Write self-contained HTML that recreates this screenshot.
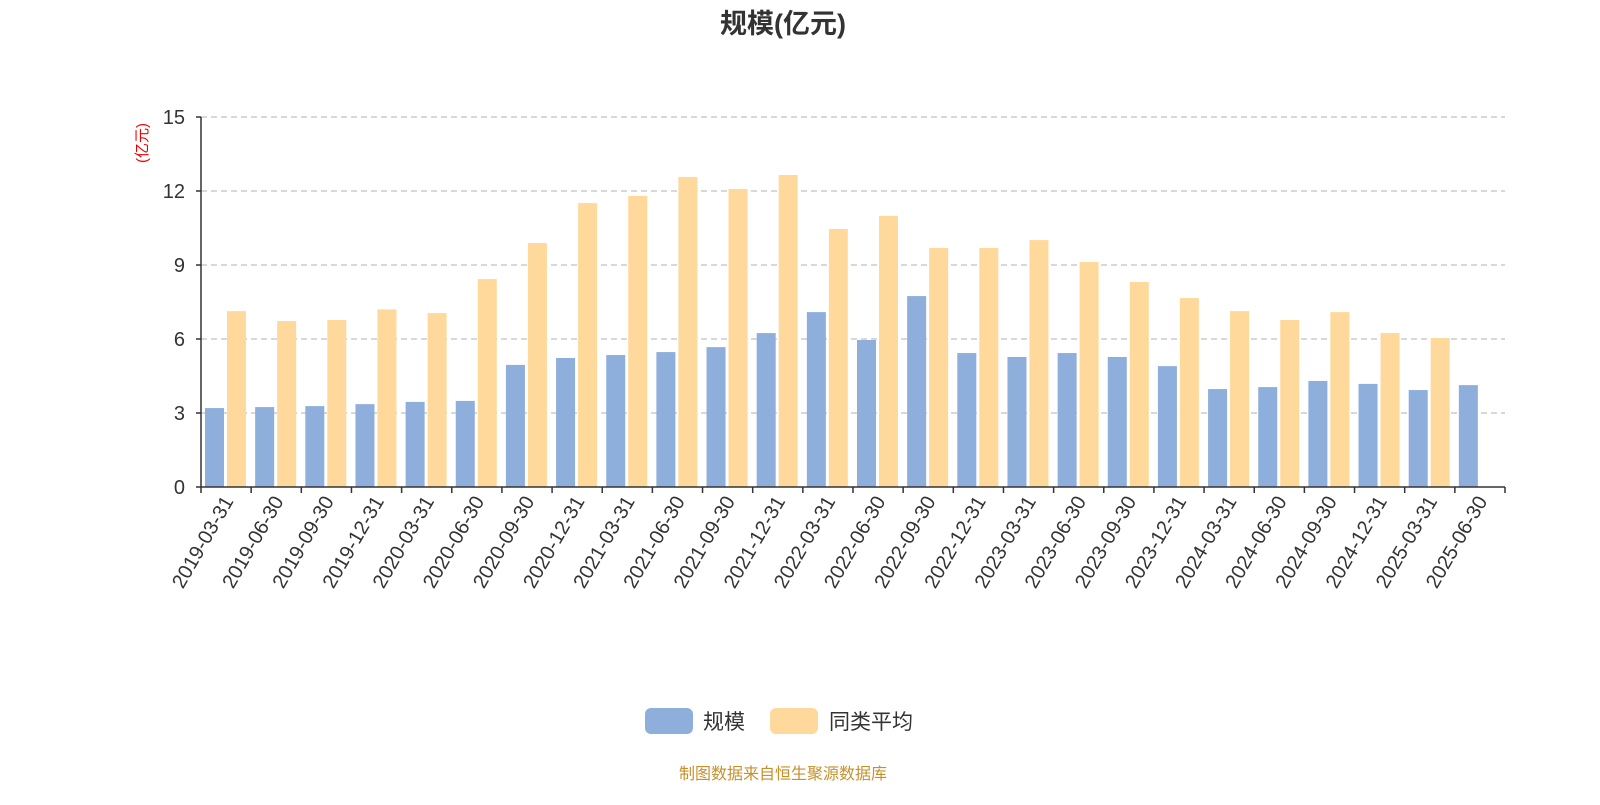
<!DOCTYPE html>
<html><head><meta charset="utf-8"><style>
body{margin:0;background:#fff;}
svg text{font-family:"Liberation Sans","Noto Sans CJK SC",sans-serif;}
</style></head><body>
<svg id="chart" width="1600" height="800" xmlns="http://www.w3.org/2000/svg">
<text x="783" y="33" text-anchor="middle" font-size="27" font-weight="bold" fill="#333">规模(亿元)</text>
<text transform="translate(147,143) rotate(-90)" text-anchor="middle" font-size="15" fill="#e00">(亿元)</text>
<g id="grid"></g><g id="bars"></g><g id="axes"></g>
<g>
<rect x="645" y="708" width="48" height="26" rx="6" fill="#8eaedb"/>
<text x="703" y="729" font-size="21" fill="#333">规模</text>
<rect x="770" y="708" width="48" height="26" rx="6" fill="#fed99b"/>
<text x="829" y="729" font-size="21" fill="#333">同类平均</text>
</g>
<text x="783" y="779" text-anchor="middle" font-size="16" fill="#c8902a">制图数据来自恒生聚源数据库</text>
</svg>
<script>
const categories=["2019-03-31","2019-06-30","2019-09-30","2019-12-31","2020-03-31","2020-06-30","2020-09-30","2020-12-31","2021-03-31","2021-06-30","2021-09-30","2021-12-31","2022-03-31","2022-06-30","2022-09-30","2022-12-31","2023-03-31","2023-06-30","2023-09-30","2023-12-31","2024-03-31","2024-06-30","2024-09-30","2024-12-31","2025-03-31","2025-06-30"];
const scaleValues=[3.2,3.24,3.28,3.36,3.45,3.49,4.95,5.23,5.35,5.47,5.67,6.24,7.09,5.96,7.74,5.43,5.27,5.43,5.27,4.9,3.97,4.05,4.3,4.18,3.93,4.13];
const avgValues=[7.13,6.73,6.77,7.2,7.05,8.43,9.89,11.51,11.8,12.57,12.08,12.65,10.46,10.99,9.69,9.69,10.01,9.12,8.31,7.66,7.13,6.77,7.09,6.24,6.04,null];
const yTicks=[0,3,6,9,12,15];
const NS="http://www.w3.org/2000/svg";
const x0=201,x1=1505,yb=487,yt=117,ymax=15;
const band=(x1-x0)/categories.length;
const y=v=>yb-(v/ymax)*(yb-yt);
const xb=i=>x0+i*band;
function mk(t,a,p){const e=document.createElementNS(NS,t);for(const k in a)e.setAttribute(k,a[k]);p.appendChild(e);return e;}
const grid=document.getElementById('grid'),bars=document.getElementById('bars'),axes=document.getElementById('axes');
yTicks.forEach(v=>{
  if(v>0){const l=mk('line',{x1:x0,x2:x1,y1:y(v),y2:y(v),stroke:'#ccc','stroke-dasharray':'6,4','stroke-width':1.5},grid);
  
  }
  const t=mk('text',{x:185,y:y(v)+7,'text-anchor':'end','font-size':20,fill:'#333'},axes);t.textContent=v;
  
  
  mk('line',{x1:x0-5,x2:x0,y1:y(v),y2:y(v),stroke:'#333','stroke-width':1.5},axes);
});
const bw=19;
categories.forEach((c,i)=>{
  const b=xb(i);
  const r1=mk('rect',{x:b+4,y:y(scaleValues[i]),width:bw,height:yb-y(scaleValues[i]),fill:'#8eaedb'},bars);
  
  
  if(avgValues[i]!=null){const r2=mk('rect',{x:b+26,y:y(avgValues[i]),width:bw,height:yb-y(avgValues[i]),fill:'#fed99b'},bars);
  
  }
  const cx=b+band/2;
  const t=mk('text',{transform:`translate(${cx+8},${yb+14}) rotate(-60)`,'text-anchor':'end','font-size':20,fill:'#333'},axes);t.textContent=c;
  
  
});
for(let i=0;i<=categories.length;i++)mk('line',{x1:xb(i),x2:xb(i),y1:yb,y2:yb+6,stroke:'#333','stroke-width':1.5},axes);
const xa=mk('line',{x1:x0,x2:x1,y1:yb,y2:yb,stroke:'#333','stroke-width':1.5},axes);


const ya=mk('line',{x1:x0,x2:x0,y1:yt,y2:yb,stroke:'#333','stroke-width':1.5},axes);


</script>
</body></html>
